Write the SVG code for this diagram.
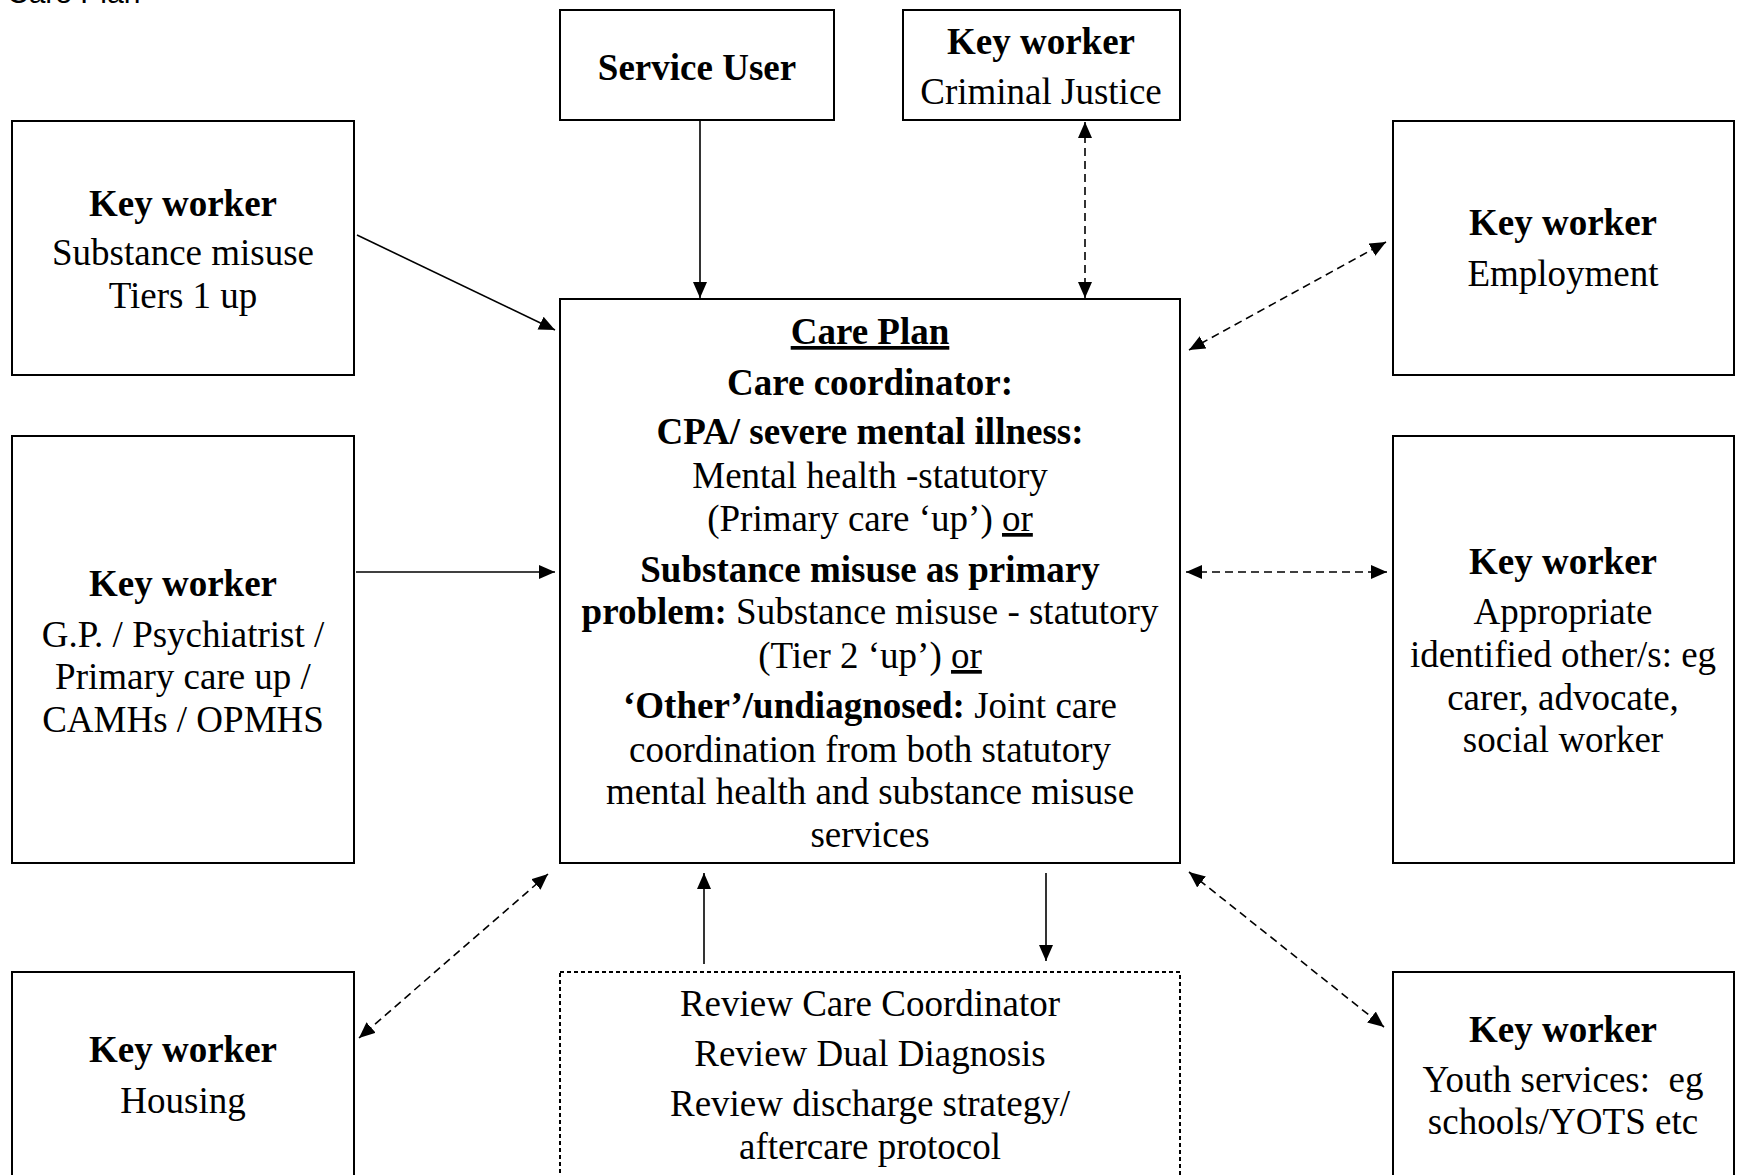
<svg xmlns="http://www.w3.org/2000/svg" width="1737" height="1175" viewBox="0 0 1737 1175">
<style>
.box{fill:#fff;stroke:#000;stroke-width:2}
.dbox{fill:#fff;stroke:#000;stroke-width:2;stroke-dasharray:4 3}
.t{font-family:"Liberation Serif","Times New Roman",serif;font-size:37px;fill:#000;text-anchor:middle}
.b{font-weight:bold}
.u{text-decoration:underline}
.c{fill:none;stroke:#000;stroke-width:1.6}
.d{stroke-dasharray:8 5}
</style>
<defs>
<marker id="ah" markerUnits="userSpaceOnUse" markerWidth="17" markerHeight="15" refX="16" refY="7" orient="auto-start-reverse">
<path d="M0,0 L16,7 L0,14 z" fill="#000"/>
</marker>
</defs>
<rect width="1737" height="1175" fill="#fff"/>
<text x="7" y="3" font-family="'Liberation Sans',Arial,sans-serif" font-size="30" fill="#000">Care Plan</text>

<g id="connectors">
<path class="c" d="M700,120 L700,298" marker-end="url(#ah)"/>
<path class="c d" d="M1085,122 L1085,298" marker-start="url(#ah)" marker-end="url(#ah)"/>
<path class="c" d="M357,235 L555,330" marker-end="url(#ah)"/>
<path class="c" d="M356,572 L555,572" marker-end="url(#ah)"/>
<path class="c d" d="M1189,350 L1386,242" marker-start="url(#ah)" marker-end="url(#ah)"/>
<path class="c d" d="M1186,572 L1387,572" marker-start="url(#ah)" marker-end="url(#ah)"/>
<path class="c d" d="M548,874 L359,1038" marker-start="url(#ah)" marker-end="url(#ah)"/>
<path class="c" d="M704,964 L704,873" marker-end="url(#ah)"/>
<path class="c" d="M1046,873 L1046,961" marker-end="url(#ah)"/>
<path class="c d" d="M1189,872 L1384,1027" marker-start="url(#ah)" marker-end="url(#ah)"/>
</g>

<g id="service-user">
<rect class="box" x="560" y="10" width="274" height="110"/>
<text class="t b" x="697" y="80">Service User</text>
</g>

<g id="kw-criminal-justice">
<rect class="box" x="903" y="10" width="277" height="110"/>
<text class="t b" x="1041" y="54">Key worker</text>
<text class="t" x="1041" y="104">Criminal Justice</text>
</g>

<g id="kw-substance-misuse">
<rect class="box" x="12" y="121" width="342" height="254"/>
<text class="t b" x="183" y="216">Key worker</text>
<text class="t" x="183" y="265">Substance misuse</text>
<text class="t" x="183" y="308">Tiers 1 up</text>
</g>

<g id="kw-employment">
<rect class="box" x="1393" y="121" width="341" height="254"/>
<text class="t b" x="1563" y="235">Key worker</text>
<text class="t" x="1563" y="286">Employment</text>
</g>

<g id="care-plan">
<rect class="box" x="560" y="299" width="620" height="564"/>
<text class="t b" x="870" y="344"><tspan class="u">Care Plan</tspan></text>
<text class="t b" x="870" y="395">Care coordinator:</text>
<text class="t b" x="870" y="444">CPA/ severe mental illness:</text>
<text class="t" x="870" y="488">Mental health -statutory</text>
<text class="t" x="870" y="531">(Primary care ‘up’) <tspan class="u">or</tspan></text>
<text class="t b" x="870" y="582">Substance misuse as primary</text>
<text class="t" x="870" y="624"><tspan class="b">problem:</tspan> Substance misuse - statutory</text>
<text class="t" x="870" y="668">(Tier 2 ‘up’) <tspan class="u">or</tspan></text>
<text class="t" x="870" y="718"><tspan class="b">‘Other’/undiagnosed:</tspan> Joint care</text>
<text class="t" x="870" y="762">coordination from both statutory</text>
<text class="t" x="870" y="804">mental health and substance misuse</text>
<text class="t" x="870" y="847">services</text>
</g>

<g id="kw-gp">
<rect class="box" x="12" y="436" width="342" height="427"/>
<text class="t b" x="183" y="596">Key worker</text>
<text class="t" x="183" y="647">G.P. / Psychiatrist /</text>
<text class="t" x="183" y="689">Primary care up /</text>
<text class="t" x="183" y="732">CAMHs / OPMHS</text>
</g>

<g id="kw-appropriate">
<rect class="box" x="1393" y="436" width="341" height="427"/>
<text class="t b" x="1563" y="574">Key worker</text>
<text class="t" x="1563" y="624">Appropriate</text>
<text class="t" x="1563" y="667">identified other/s: eg</text>
<text class="t" x="1563" y="710">carer, advocate,</text>
<text class="t" x="1563" y="752">social worker</text>
</g>

<g id="kw-housing">
<rect class="box" x="12" y="972" width="342" height="240"/>
<text class="t b" x="183" y="1062">Key worker</text>
<text class="t" x="183" y="1113">Housing</text>
</g>

<g id="review">
<rect class="dbox" x="560" y="972" width="620" height="240"/>
<text class="t" x="870" y="1016">Review Care Coordinator</text>
<text class="t" x="870" y="1066">Review Dual Diagnosis</text>
<text class="t" x="870" y="1116">Review discharge strategy/</text>
<text class="t" x="870" y="1159">aftercare protocol</text>
</g>

<g id="kw-youth">
<rect class="box" x="1393" y="972" width="341" height="240"/>
<text class="t b" x="1563" y="1042">Key worker</text>
<text class="t" x="1563" y="1092" style="white-space:pre">Youth services:  eg</text>
<text class="t" x="1563" y="1134">schools/YOTS etc</text>
</g>
</svg>
